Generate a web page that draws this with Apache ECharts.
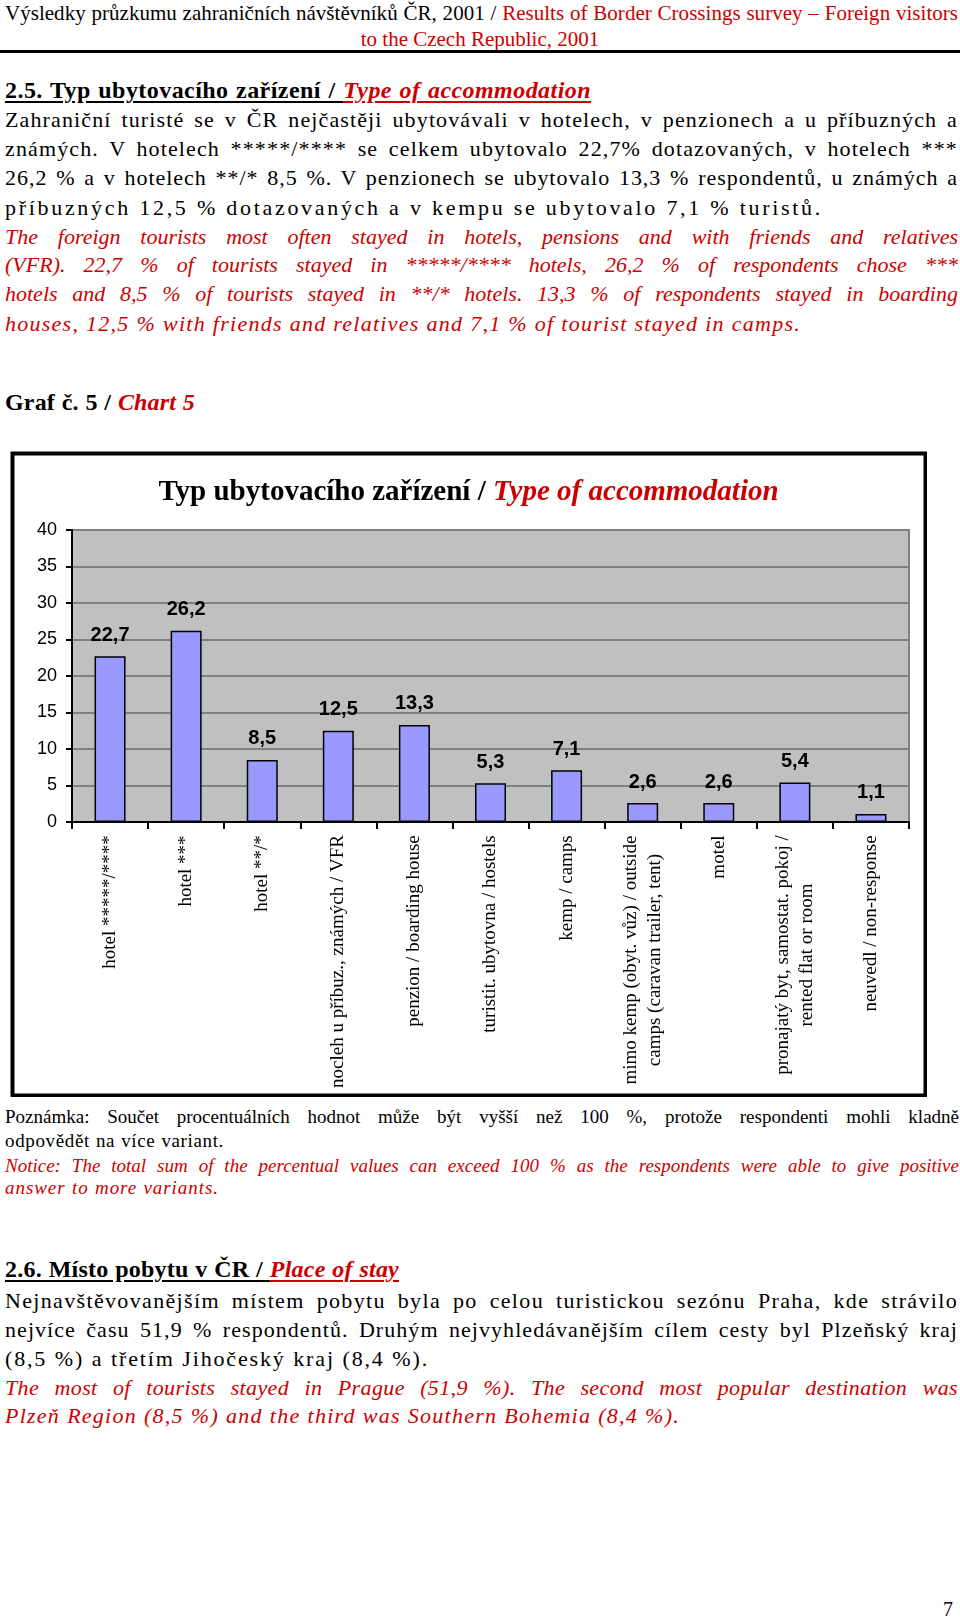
<!DOCTYPE html>
<html><head><meta charset="utf-8">
<script src="https://cdn.jsdelivr.net/npm/echarts@6/dist/echarts.min.js"></script>
<style>
html,body{margin:0;padding:0;background:#fff;}
body{width:960px;height:1620px;position:relative;overflow:hidden;font-family:"Liberation Serif","Times New Roman",serif;color:#000;}
.ln{position:absolute;left:5px;white-space:nowrap;}
.r{color:#cc0000;}
.i{font-style:italic;}
.b{font-weight:bold;}
.u{text-decoration:underline;text-decoration-thickness:2px;text-underline-offset:3px;}
.hd{font-size:21px;line-height:26px;}
.sec{font-size:24px;line-height:28px;font-weight:bold;}
.bd{font-size:22px;line-height:28px;}
.nt{font-size:19px;line-height:24px;}
#chart{position:absolute;left:10px;top:451px;width:917px;height:646px;}
</style></head><body>

<div class="ln hd" style="top:0px" data-w="951" data-ls="0.3"><span>Výsledky průzkumu zahraničních návštěvníků ČR, 2001 / <span class="r">Results of Border Crossings survey – Foreign visitors</span></span></div>
<div class="ln hd r" style="top:26px;left:0;width:960px;text-align:center">to the Czech Republic, 2001</div>
<div style="position:absolute;left:0;top:50px;width:960px;height:3px;background:#000"></div>

<div class="ln sec" style="top:76px" data-w="584" data-ls="0.8"><span><span class="u">2.5. Typ ubytovacího zařízení / </span><span class="u r i">Type of accommodation</span></span></div>

<div class="ln bd" style="top:106px" data-w="951" data-ls="0.7"><span>Zahraniční turisté se v ČR nejčastěji ubytovávali v hotelech, v penzionech a u příbuzných a</span></div>
<div class="ln bd" style="top:135px" data-w="951" data-ls="0.7"><span>známých. V hotelech *****/**** se celkem ubytovalo 22,7% dotazovaných, v hotelech ***</span></div>
<div class="ln bd" style="top:164px" data-w="951" data-ls="0.7"><span>26,2 % a v hotelech **/* 8,5 %. V penzionech se ubytovalo 13,3 % respondentů, u známých a</span></div>
<div class="ln bd" style="top:194px" data-w="816" data-ls="1"><span>příbuzných 12,5 % dotazovaných a v kempu se ubytovalo 7,1 % turistů.</span></div>
<div class="ln bd r i" style="top:223px" data-w="951" data-ls="0"><span>The foreign tourists most often stayed in hotels, pensions and with friends and relatives</span></div>
<div class="ln bd r i" style="top:251px" data-w="951" data-ls="0"><span>(VFR). 22,7 % of tourists stayed in *****/**** hotels, 26,2 % of respondents chose ***</span></div>
<div class="ln bd r i" style="top:280px" data-w="951" data-ls="0"><span>hotels and 8,5 % of tourists stayed in **/* hotels. 13,3 % of respondents stayed in boarding</span></div>
<div class="ln bd r i" style="top:310px" data-w="794" data-ls="1"><span>houses, 12,5 % with friends and relatives and 7,1 % of tourist stayed in camps.</span></div>

<div class="ln sec" style="top:388px" data-w="188" data-ls="0.8"><span>Graf č. 5 / <span class="r i">Chart 5</span></span></div>

<div id="chart"></div>

<div class="ln nt" style="top:1105px" data-w="952" data-ls="0"><span>Poznámka: Součet procentuálních hodnot může být vyšší než 100 %, protože respondenti mohli kladně</span></div>
<div class="ln nt" style="top:1129px" data-w="217" data-ls="1"><span>odpovědět na více variant.</span></div>
<div class="ln nt r i" style="top:1154px" data-w="952" data-ls="0"><span>Notice: The total sum of the percentual values can exceed 100 % as the respondents were able to give positive</span></div>
<div class="ln nt r i" style="top:1176px" data-w="212" data-ls="1"><span>answer to more variants.</span></div>

<div class="ln sec" style="top:1255px" data-w="392" data-ls="0.8"><span><span class="u">2.6. Místo pobytu v ČR / </span><span class="u r i">Place of stay</span></span></div>
<div class="ln bd" style="top:1287px" data-w="951" data-ls="0.7"><span>Nejnavštěvovanějším místem pobytu byla po celou turistickou sezónu Praha, kde strávilo</span></div>
<div class="ln bd" style="top:1316px" data-w="951" data-ls="0.7"><span>nejvíce času 51,9 % respondentů. Druhým nejvyhledávanějším cílem cesty byl Plzeňský kraj</span></div>
<div class="ln bd" style="top:1345px" data-w="422" data-ls="1"><span>(8,5 %) a třetím Jihočeský kraj (8,4 %).</span></div>
<div class="ln bd r i" style="top:1374px" data-w="951" data-ls="0.2"><span>The most of tourists stayed in Prague (51,9 %). The second most popular destination was</span></div>
<div class="ln bd r i" style="top:1402px" data-w="673" data-ls="1"><span>Plzeň Region (8,5 %) and the third was Southern Bohemia (8,4 %).</span></div>

<div class="ln" style="top:1597px;left:943px;font-size:20px;line-height:24px">7</div>

<script>
// ---- chart data ----
const categories = [
  'hotel *****/****',
  'hotel ***',
  'hotel **/*',
  'nocleh u příbuz., známých / VFR',
  'penzion / boarding house',
  'turistit. ubytovna / hostels',
  'kemp / camps',
  'mimo kemp (obyt. vůz) / outside\ncamps (caravan trailer, tent)',
  'motel',
  'pronajatý byt, samostat. pokoj /\nrented flat or room',
  'neuvedl / non-response'
];
const values = [22.7, 26.2, 8.5, 12.5, 13.3, 5.3, 7.1, 2.6, 2.6, 5.4, 1.1];
const yMin = 0;
const yMax = 40;
const yStep = 5;
const titleCz = 'Typ ubytovacího zařízení / ';
const titleEn = 'Type of accommodation';

// ---- fit text lines ----
document.querySelectorAll('.ln[data-w]').forEach(function (el) {
  const W = +el.dataset.w;
  const frac = +(el.dataset.ls || 0);
  const sp = el.firstElementChild;
  let nat = sp.getBoundingClientRect().width;
  if (nat > W) {
    sp.style.display = 'inline-block';
    sp.style.transformOrigin = '0 0';
    sp.style.transform = 'scaleX(' + (W / nat) + ')';
    return;
  }
  const n = sp.textContent.length;
  if (frac > 0 && n > 1) {
    const ls = (W - nat) * frac / n;
    el.style.letterSpacing = ls.toFixed(3) + 'px';
    nat = sp.getBoundingClientRect().width;
    if (nat > W) {
      el.style.letterSpacing = ((W - nat + ls * n) / n * 0.98).toFixed(3) + 'px';
    }
  }
  el.style.width = (W + 2) + 'px';
  el.style.whiteSpace = 'normal';
  el.style.textAlign = 'justify';
  el.style.textAlignLast = 'justify';
});

// ---- chart ----
const catFont = '"Liberation Serif","Times New Roman",serif';
const ctx = document.createElement('canvas').getContext('2d');
ctx.font = '19px "Liberation Serif"';
const rich = {};
categories.forEach(function (c, i) {
  const w = Math.max.apply(null, c.split('\n').map(function (l) { return ctx.measureText(l).width; }));
  rich['c' + i] = { width: Math.ceil(w) + 2, align: 'center', fontFamily: catFont, fontSize: 19, lineHeight: 24, color: '#000' };
});

const chart = echarts.init(document.getElementById('chart'), null, { renderer: 'canvas' });
chart.setOption({
  animation: false,
  title: {
    text: '{a|' + titleCz + '}{b|' + titleEn + '}',
    left: 'center',
    top: 22,
    textStyle: {
      rich: {
        a: { fontFamily: catFont, fontSize: 29, color: '#000' },
        b: { fontFamily: catFont, fontSize: 29, color: '#cc0000', fontStyle: 'italic' }
      }
    }
  },
  graphic: [{
    type: 'rect', left: 0, top: 0, silent: true,
    shape: { x: 2, y: 2, width: 913, height: 642 },
    style: { fill: 'none', stroke: '#000', lineWidth: 4 }
  }],
  grid: {
    left: 62, right: 18, top: 79, bottom: 275,
    show: true, backgroundColor: '#c0c0c0', borderColor: '#808080', borderWidth: 2
  },
  xAxis: {
    type: 'category',
    data: categories,
    axisLine: { lineStyle: { color: '#000', width: 2 } },
    axisTick: { show: true, length: 7, lineStyle: { color: '#000', width: 2 } },
    axisLabel: {
      interval: 0, rotate: 90, margin: 12,
      formatter: function (v, idx) {
        return v.split('\n').map(function (l) { return '{c' + idx + '|' + l + '}'; }).join('\n');
      },
      rich: rich
    }
  },
  yAxis: {
    type: 'value', min: yMin, max: yMax, interval: yStep,
    axisLine: { show: true, lineStyle: { color: '#000', width: 2 } },
    axisTick: { show: true, length: 6, lineStyle: { color: '#000', width: 2 } },
    axisLabel: { margin: 15, color: '#000', fontSize: 18, fontFamily: '"Liberation Sans",Arial,sans-serif' },
    splitLine: { show: true, lineStyle: { color: '#808080', width: 2 } }
  },
  series: [{
    type: 'bar',
    data: values,
    barWidth: 31,
    itemStyle: { color: '#9999ff', borderColor: '#000', borderWidth: 1.5 },
    label: {
      show: true, position: 'top', distance: 11,
      color: '#000', fontSize: 20, fontWeight: 'bold', fontFamily: '"Liberation Sans",Arial,sans-serif',
      formatter: function (p) { return String(p.value).replace('.', ','); }
    }
  }]
});
</script>
</body></html>
